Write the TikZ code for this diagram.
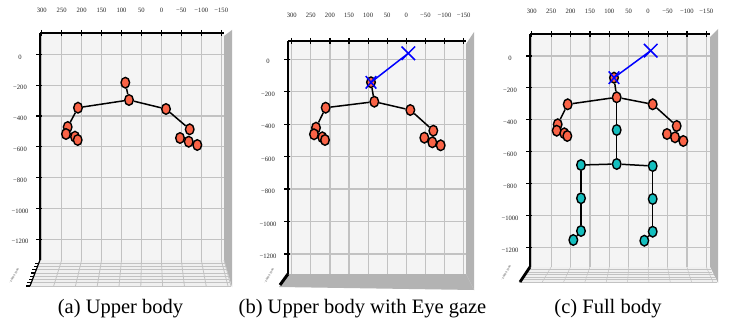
\documentclass[tikz,border=0pt]{standalone}
\usepackage{fontspec}
\setmainfont{Liberation Serif}
\usetikzlibrary{shapes.geometric,shapes.misc}
\definecolor{wallc}{HTML}{F4F4F4}
\definecolor{gridc}{HTML}{C2C2C2}
\definecolor{slabc}{HTML}{B3B3B3}
\definecolor{floorc}{HTML}{F0F0F0}
\definecolor{orj}{RGB}{250,99,70}
\definecolor{cyj}{RGB}{20,190,190}
\tikzset{
 gridline/.style={draw=gridc, line width=1.2pt},
 floorgrid/.style={draw=gridc, line width=0.8pt},
 axisline/.style={draw=black, line width=1.2pt},
 ticklab/.style={font=\fontsize{6.6}{7}\selectfont, text=black!85, inner sep=0pt},
 tinylab/.style={font=\fontsize{3}{3}\selectfont, text=black!70, inner sep=0pt, rotate=60},
 joint/.style={ellipse, draw=black, line width=1.4pt, minimum width=8.6pt, minimum height=10.6pt, inner sep=0pt},
 upper/.style={joint, fill=orj},
 lower/.style={joint, fill=cyj},
 bone/.style={draw=black, line width=1.5pt},
 gazeline/.style={draw=blue, line width=1.5pt},
 xmark/.style={cross out, draw=blue, line width=1.5pt, inner sep=0pt},
 caption/.style={font=\fontsize{20.5}{24}\selectfont, anchor=base, inner sep=0pt},
}
\newcommand\drawwall[9]{%
  \fill[wallc] (#1,#2) rectangle (#3,#4);
  \foreach \ii in {0,...,9} \draw[gridline] ({#5+\ii*#6},#2) -- ({#5+\ii*#6},#4);
  \foreach \jj in {0,...,6} \draw[gridline] (#1,{#7+\jj*#8}) -- (#3,{#7+\jj*#8});
  \draw[axisline] (#1,#2) -- (#3,#2);
  \draw[axisline] (#1,#2) -- (#1,#4);
  \foreach \ii/\lab in {0/300,1/250,2/200,3/150,4/100,5/50,6/0,7/−50,8/−100,9/−150} {
    \draw[axisline] ({#5+\ii*#6},{#2-3}) -- ({#5+\ii*#6},{#2+3});
    \node[ticklab] (xl\ii) at ({#5+\ii*#6},#9) {\lab};
  }
  \foreach \jj/\lab in {0/0,1/−200,2/−400,3/−600,4/−800,5/−1000,6/−1200} {
    \draw[axisline] ({#1-4},{#7+\jj*#8}) -- ({#1+2},{#7+\jj*#8});
    \node[ticklab] (yl\jj) at ({#1-20},{#7+\jj*#8+2.5}) {\lab};
  }
}
\begin{document}
\begin{tikzpicture}[x=1pt,y=-1pt]
\useasboundingbox (0,0) rectangle (736,331);
\fill[white] (0,0) rectangle (736,331);

% ---------------- panel (a)
\begin{scope}[name prefix=a-]
\fill[slabc] (224,36) -- (232,30) -- (232,287) -- (224,260) -- cycle;
\drawwall{40}{33}{224}{260}{41.7}{19.95}{54.5}{30.8}{10}
\fill[floorc] (40,260) -- (224,260) -- (231,286) -- (30,286) -- cycle;
\foreach \k in {1,...,8} {
  \draw[floorgrid] ({40-10*\k/8},{260+26*\k/8}) -- ({224+7*\k/8},{260+26*\k/8});
  \draw[axisline] ({40-10*\k/8},{260+26*\k/8}) -- ({36-10*\k/8},{260+26*\k/8});
}
\foreach \ii in {1,...,9} \draw[floorgrid] ({41.7+\ii*19.95},260) -- ({30+(1.7+\ii*19.95)*(201/184)},286);
\draw[floorgrid] (224,260) -- (231,286);
\draw[axisline] (40,260) -- (30,286);
\node[tinylab] (fl) at (14,276) {−2000 0 2000};
\end{scope}

\node[upper] (ah) at (125.3,82.7) {};
\node[upper] (an) at (129,100) {};
\node[upper] (ars) at (78,107.7) {};
\node[upper] (als) at (166,109) {};
\node[upper] (arw) at (67.7,127) {};
\node[upper] (arh1) at (66,134) {};
\node[upper] (arh2) at (75,136.7) {};
\node[upper] (arh3) at (77.7,140) {};
\node[upper] (alw) at (189.7,129.3) {};
\node[upper] (alh1) at (180,138) {};
\node[upper] (alh2) at (188.7,141.7) {};
\node[upper] (alh3) at (197.3,145) {};
\draw[bone] (ah) -- (an);
\draw[bone] (an) -- (ars);
\draw[bone] (an) -- (als);
\draw[bone] (ars) -- (arw);
\draw[bone] (als) -- (alw);

% ---------------- panel (b)
\begin{scope}[name prefix=b-]
\fill[slabc] (466,44) -- (474,32) -- (474,290) -- (466,274) -- cycle;
\drawwall{288}{41}{466}{274}{291.7}{19.1}{59.3}{32.45}{15.5}
\fill[slabc] (288,274) -- (466,274) -- (474,290) -- (279,287) -- cycle;
\draw[black, line width=3pt] (288,274) -- (280,285);
\node[tinylab] (fl) at (269,276) {−2000 0 2000};
\end{scope}

\node[upper] (bh) at (371,82.3) {};
\node[upper] (bn) at (374.3,101.7) {};
\node[upper] (brs) at (325.7,107.7) {};
\node[upper] (bls) at (410.3,110) {};
\node[upper] (brw) at (316,127.7) {};
\node[upper] (brh1) at (314,134.3) {};
\node[upper] (brh2) at (322.3,137.3) {};
\node[upper] (brh3) at (325,140) {};
\node[upper] (blw) at (433.3,130.7) {};
\node[upper] (blh1) at (424.3,137.7) {};
\node[upper] (blh2) at (432.3,142.3) {};
\node[upper] (blh3) at (440.7,145.3) {};
\draw[bone] (bh) -- (bn);
\draw[bone] (bn) -- (brs);
\draw[bone] (bn) -- (bls);
\draw[bone] (brs) -- (brw);
\draw[bone] (bls) -- (blw);
\node[xmark, minimum width=12pt, minimum height=12pt] (bg) at (408.3,53.3) {};
\node[xmark, minimum width=9pt, minimum height=11pt] (bhx) at (bh) {};
\draw[gazeline] (bh.center) -- (bg.center);

% ---------------- panel (c)
\begin{scope}[name prefix=c-]
\fill[slabc] (710,37) -- (718,29) -- (718,283) -- (710,267) -- cycle;
\drawwall{530}{34}{710}{267}{531.7}{19.4}{56}{31.9}{11}
\fill[floorc] (530,267) -- (710,267) -- (717,282) -- (519,282) -- cycle;
\foreach \k in {1,...,6}
  \draw[floorgrid, line width=0.5pt] ({530-11*\k/6},{267+15*\k/6}) -- ({710+7*\k/6},{267+15*\k/6});
\foreach \ii in {1,...,9} \draw[floorgrid, line width=0.5pt] ({531.7+\ii*19.4},267) -- ({519+(1.7+\ii*19.4)*(198/180)},282);
\draw[black, line width=2.8pt] (530,267) -- (520,282);
\node[tinylab] (fl) at (506,273) {−2000 0 2000};
\end{scope}

\node[upper] (ch) at (614,77.7) {};
\node[upper] (cn) at (616.7,97.3) {};
\node[upper] (crs) at (567.7,104.3) {};
\node[upper] (cls) at (652.7,104.3) {};
\node[upper] (crw) at (557.7,124.3) {};
\node[upper] (crh1) at (556.7,130.7) {};
\node[upper] (crh2) at (564.3,133.3) {};
\node[upper] (crh3) at (567.3,136) {};
\node[upper] (clw) at (676.7,126) {};
\node[upper] (clh1) at (667,134) {};
\node[upper] (clh2) at (675,137.3) {};
\node[upper] (clh3) at (683.3,141) {};
\node[lower] (csp) at (616.7,130) {};
\node[lower] (cpv) at (616.7,164) {};
\node[lower] (crhip) at (581,165) {};
\node[lower] (clhip) at (652.7,166) {};
\node[lower] (crk) at (581,198.3) {};
\node[lower] (clk) at (652.7,199) {};
\node[lower] (cra) at (581,231) {};
\node[lower] (cla) at (652.7,231.7) {};
\node[lower] (crf) at (573.3,240) {};
\node[lower] (clf) at (644.3,240.7) {};
\draw[bone] (ch) -- (cn);
\draw[bone] (cn) -- (crs);
\draw[bone] (cn) -- (cls);
\draw[bone] (crs) -- (crw);
\draw[bone] (cls) -- (clw);
\draw[bone] (cn) -- (csp);
\draw[bone] (csp) -- (cpv);
\draw[bone] (cpv) -- (crhip);
\draw[bone] (cpv) -- (clhip);
\draw[bone] (crhip) -- (crk);
\draw[bone] (crk) -- (cra);
\draw[bone] (clhip) -- (clk);
\draw[bone] (clk) -- (cla);
\draw[bone] (cra) -- (crf);
\draw[bone] (cla) -- (clf);
\node[xmark, minimum width=12pt, minimum height=12pt] (cg) at (650.7,50.7) {};
\node[xmark, minimum width=9pt, minimum height=11pt] (chx) at (ch) {};
\draw[gazeline] (ch.center) -- (cg.center);

% ---------------- captions
\node[caption] (capa) at (120.5,313) {(a) Upper body};
\node[caption] (capb) at (362.5,313) {(b) Upper body with Eye gaze};
\node[caption] (capc) at (608,313) {(c) Full body};
\end{tikzpicture}
\end{document}
